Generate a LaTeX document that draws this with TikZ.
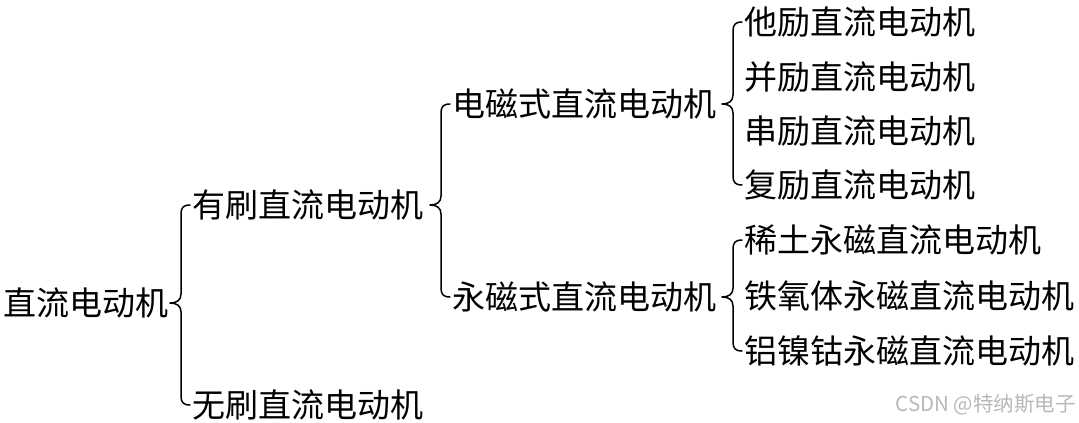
\documentclass[tikz,border=0pt]{standalone}
\usepackage{fontspec}
\newfontfamily\cjk{Noto Sans CJK SC}
\usetikzlibrary{calc}
\newcommand\mybrace[3]{%
  \draw[br] let \p1=(#1.east), \p2=(#2.west), \p3=(#3.west) in
    ({\x2-2pt},{\y2}) .. controls ({\x2-9pt},{\y2}) and ({\x2-11pt},{\y2-3pt}) .. ({\x2-11pt},{\y2-9pt})
    -- ({\x2-11pt},{\y1+9pt}) .. controls ({\x2-11pt},{\y1+3pt}) and ({\x2-15pt},{\y1}) .. ({\x2-22pt},{\y1})
    .. controls ({\x2-15pt},{\y1}) and ({\x2-11pt},{\y1-3pt}) .. ({\x2-11pt},{\y1-9pt})
    -- ({\x2-11pt},{\y3+9pt}) .. controls ({\x2-11pt},{\y3+3pt}) and ({\x2-9pt},{\y3}) .. ({\x2-2pt},{\y3});
}
\begin{document}
\begin{tikzpicture}[x=1pt,y=-1pt,
  lbl/.style={anchor=west,inner sep=0pt,font=\cjk\fontsize{33}{36}\selectfont},
  br/.style={line width=1.5pt,line join=round,line cap=round}]
\useasboundingbox (0,0) rectangle (1079,423);
\fill[white] (0,0) rectangle (1079,423);
\node[lbl] (root) at (3,303) {直流电动机};
\node[lbl] (ys) at (192,205) {有刷直流电动机};
\node[lbl] (ws) at (192,405) {无刷直流电动机};
\node[lbl] (dc) at (452,104) {电磁式直流电动机};
\node[lbl] (yc) at (452,297) {永磁式直流电动机};
\node[lbl] (a1) at (744,22) {他励直流电动机};
\node[lbl] (a2) at (744,77) {并励直流电动机};
\node[lbl] (a3) at (744,131) {串励直流电动机};
\node[lbl] (a4) at (744,185) {复励直流电动机};
\node[lbl] (b1) at (744,240) {稀土永磁直流电动机};
\node[lbl] (b2) at (744,296) {铁氧体永磁直流电动机};
\node[lbl] (b3) at (744,351) {铝镍钴永磁直流电动机};
\node[anchor=east,inner sep=0pt,text=black!28,font=\cjk\fontsize{20.5}{22}\selectfont] (wm) at (1076,405) {CSDN @特纳斯电子};
\mybrace{root}{ys}{ws}
\mybrace{ys}{dc}{yc}
\mybrace{dc}{a1}{a4}
\mybrace{yc}{b1}{b3}
\end{tikzpicture}
\end{document}
